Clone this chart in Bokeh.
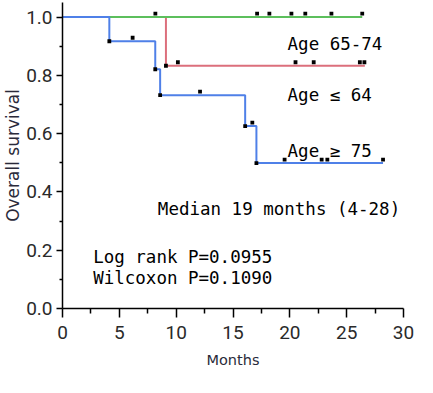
import numpy as np
from bokeh.plotting import figure
from bokeh.models import Range1d, Label, FixedTicker, PrintfTickFormatter
from bokeh.embed import file_html
from bokeh.resources import INLINE

# ---- data ----
x_ticks = [0, 5, 10, 15, 20, 25, 30]
x_minor = [2.5, 7.5, 12.5, 17.5, 22.5, 27.5]
y_ticks = [0.0, 0.2, 0.4, 0.6, 0.8, 1.0]
y_minor = [0.1, 0.3, 0.5, 0.7, 0.9]

# Age >= 75 (blue)
blue_t = [0, 4.12, 8.16, 8.59, 16.07, 17.06]
blue_s = [1.0, 0.917, 0.821, 0.732, 0.626, 0.499]
blue_end = 28.2
blue_censor = [6.17, 12.1, 16.7, 19.54, 22.8, 23.3, 28.2]

# Age <= 64 (red)
red_t = [0, 9.1]
red_s = [1.0, 0.833]
red_end = 26.6
red_censor = [10.15, 20.5, 22.1, 26.16, 26.56]

# Age 65-74 (green)
green_t = [0]
green_s = [1.0]
green_end = 26.37
green_censor = [8.17, 17.12, 18.2, 20.14, 21.36, 23.66, 26.37]

BLUE = "#4f80e8"
RED = "#dc6f7c"
GREEN = "#5cbf5c"

p = figure(width=417, height=377, output_backend="svg", toolbar_location=None,
           x_range=Range1d(0, 30), y_range=Range1d(0, 1.05),
           min_border_left=62, min_border_right=14, min_border_top=2, min_border_bottom=69)
p.outline_line_color = None
p.xgrid.grid_line_color = None
p.ygrid.grid_line_color = None
p.background_fill_color = "white"
p.border_fill_color = "white"

def curve(t, s, end, censor, color):
    xs = list(t) + [end]
    ys = list(s) + [s[-1]]
    p.step(xs, ys, mode="after", line_color=color, line_width=2)
    idx = np.searchsorted(np.array(t), np.array(censor), side="right") - 1
    cy = np.array(s)[idx] + 0.012
    p.scatter(censor, cy, marker="square", size=3.8, fill_color="black", line_color=None)
    if len(t) > 1:
        p.scatter(t[1:], s[1:], marker="square", size=3.8, fill_color="black", line_color=None)

curve(red_t, red_s, red_end, red_censor, RED)
curve(green_t, green_s, green_end, green_censor, GREEN)
curve(blue_t, blue_s, blue_end, blue_censor, BLUE)

mono = "DejaVu Sans Mono"
labels = [
    ("Age 65-74", 19.8, 0.908),
    ("Age \u2264 64", 19.8, 0.731),
    ("Age \u2265 75", 19.8, 0.540),
    ("Median 19 months (4-28)", 8.39, 0.340),
    ("Log rank P=0.0955", 2.7, 0.176),
    ("Wilcoxon P=0.1090", 2.7, 0.103),
]
for txt, lx, ly in labels:
    p.add_layout(Label(x=lx, y=ly, text=txt, text_font=mono, text_font_size="17.5px",
                       text_color="black", text_baseline="alphabetic"))

tick_font = "Roboto"
tick_size = "19px"
tick_color = "#2a2a2a"
title_color = "#2a2a3a"
for ax in (p.xaxis, p.yaxis):
    ax.axis_line_color = "black"
    ax.axis_line_width = 1.5
    ax.major_tick_line_color = "black"
    ax.minor_tick_line_color = "black"
    ax.major_tick_line_width = 1.5
    ax.minor_tick_line_width = 1.5
    ax.major_tick_in = 0
    ax.minor_tick_in = 0
    ax.major_label_text_font = tick_font
    ax.major_label_text_font_size = tick_size
    ax.major_label_text_color = tick_color
    ax.axis_label_text_font = "DejaVu Sans"
    ax.axis_label_text_font_style = "normal"
    ax.axis_label_text_color = title_color

p.xaxis.ticker = FixedTicker(ticks=x_ticks, minor_ticks=x_minor)
p.yaxis.ticker = FixedTicker(ticks=y_ticks, minor_ticks=y_minor)
p.yaxis.formatter = PrintfTickFormatter(format="%.1f")
p.xaxis.major_tick_out = 9
p.xaxis.minor_tick_out = 5
p.yaxis.major_tick_out = 6
p.yaxis.minor_tick_out = 3
p.xaxis.major_label_standoff = 8
p.yaxis.major_label_standoff = 4

p.yaxis.axis_label = "Overall survival"
p.yaxis.axis_label_text_font_size = "17px"
p.yaxis.axis_label_standoff = 0
p.xaxis.axis_label = "Months"
p.xaxis.axis_label_text_font_size = "14.5px"
p.xaxis.axis_label_standoff = 10

open("out.html", "w").write(file_html(p, INLINE))
